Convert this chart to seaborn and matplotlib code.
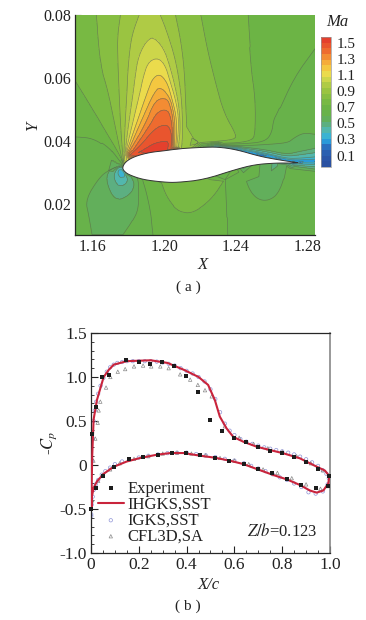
import numpy as np
import pandas as pd
import seaborn as sns
import matplotlib.pyplot as plt
import matplotlib.tri as mtri
from matplotlib.colors import LinearSegmentedColormap
from matplotlib.ticker import MultipleLocator

# ---- panel (a): Mach contours, (level, x list, y list) ----
lobe_080 = (0.80, [1.1621, 1.1646, 1.1685, 1.1724, 1.1763], [.08, .0635, .0561, .045, .0339])
lobe_080r = (0.80, [1.22, 1.2237, 1.2283, 1.233, 1.2405, 1.2386, 1.2293, 1.2162], [.08, .069, .0584, .0488, .0414, .0404, .0398, .0393])
lobe_087 = (0.87, [1.1769, 1.1755, 1.1747, 1.174, 1.174, 1.1756], [.0339, .045, .0561, .0673, .0736, .08])
lobe_087r = (0.87, [1.206, 1.2091, 1.211, 1.2117, 1.2125, 1.2184, 1.2195, 1.2143], [.08, .0715, .062, .0501, .0418, .0399, .0392, .0385])
lobe_094 = (0.94, [1.1772, 1.178, 1.1792, 1.1796, 1.1808, 1.1825, 1.186], [.0332, .045, .0561, .0619, .0695, .0746, .08])
lobe_094r = (0.94, [1.1976, 1.2013, 1.206, 1.2088, 1.2099, 1.2102, 1.2097], [.08, .0747, .0662, .0572, .0501, .0429, .0387])
lobe_101 = (1.01, [1.1775, 1.1799, 1.1828, 1.1836, 1.1853, 1.1892, 1.1937, 1.1995, 1.2028, 1.206, 1.2084, 1.2088, 1.2078],
            [.0339, .045, .0561, .06, .0663, .0711, .0731, .0694, .0641, .0572, .0501, .0429, .0381])
lobe_108 = (1.08, [1.1786, 1.182, 1.1867, 1.1881, 1.1909, 1.1963, 1.2004, 1.2032, 1.206, 1.2078, 1.2078, 1.2069],
            [.037, .045, .0561, .06, .065, .0664, .0641, .0588, .0535, .0482, .0429, .0381])
lobe_115 = (1.15, [1.1792, 1.1841, 1.1909, 1.1937, 1.1976, 1.2017, 1.2041, 1.2065, 1.2069, 1.2063],
            [.037, .045, .0561, .06, .0612, .0583, .0535, .0482, .0429, .0381])
lobe_122 = (1.22, [1.18, 1.1861, 1.1948, 1.1985, 1.2032, 1.205, 1.206, 1.2056],
            [.037, .045, .0561, .0569, .0535, .0493, .045, .0381])
lobe_129 = (1.29, [1.1808, 1.1892, 1.1948, 1.2015, 1.2036, 1.205, 1.205],
            [.037, .045, .053, .0536, .0503, .0461, .0381])
lobe_136 = (1.36, [1.1825, 1.192, 1.1959, 1.2015, 1.2037, 1.2045, 1.2043],
            [.037, .045, .0491, .0501, .0471, .0429, .0378])
lobe_143 = (1.43, [1.1808, 1.1869, 1.1948, 1.2015, 1.2037, 1.2041, 1.2036],
            [.0355, .0386, .044, .0453, .0429, .0403, .0374])
lobe_150 = (1.50, [1.1855, 1.1892, 1.1948, 1.2015, 1.2023, 1.2017],
            [.0362, .0374, .0393, .0399, .0392, .037])
# far field and wake lines
far_073 = (0.73, [1.15, 1.1603, 1.1677, 1.1733, 1.1765], [.0594, .0499, .0425, .0372, .0335])
far_073r = (0.73, [1.2461, 1.2479, 1.2507, 1.2506, 1.2488, 1.2422, 1.2329], [.08, .0637, .0531, .0418, .0402, .0394, .0392])
far_066 = (0.66, [1.15, 1.1603, 1.1696, 1.176], [.0416, .0412, .0377, .0328])
far_066r = (0.66, [1.2843, 1.2722, 1.2628, 1.2608, 1.2599, 1.2562, 1.2441, 1.232], [.07, .0605, .0488, .0466, .0424, .0397, .039, .0389])
line_a = (0.59, [1.1755, 1.1696, 1.164, 1.1556, 1.1575, 1.1593], [.0322, .0308, .0287, .0213, .016, .01])
line_c = (0.59, [1.1771, 1.1825, 1.1855, 1.1857, 1.1855, 1.1835], [.01, .0145, .018, .0235, .0275, .0292])
line_d = (0.66, [1.1938, 1.1925, 1.19, 1.188], [.01, .017, .0235, .0272])
line_e = (0.66, [1.2349, 1.2345, 1.2339], [.01, .0192, .0276])
bowl_1 = (0.73, [1.1985, 1.2013, 1.2069, 1.2134, 1.22, 1.2274, 1.233], [.0266, .0223, .0181, .017, .0186, .0223, .0271])
bowl_2 = (0.59, [1.2442, 1.247, 1.2517, 1.2573, 1.2628, 1.2666, 1.2684], [.0298, .0245, .0213, .0207, .0223, .0266, .0319])
loop_52 = (0.52, [1.1745, 1.1697, 1.1669, 1.1724, 1.1808, 1.1836, 1.1815], [.032, .0313, .0275, .0205, .0227, .0259, .0285])
loop_45 = (0.45, [1.1755, 1.1735, 1.1713, 1.1741, 1.178, 1.1797, 1.1785], [.0315, .0313, .0285, .0253, .0259, .0275, .029])
loop_38 = (0.38, [1.1752, 1.1735, 1.1758, 1.178, 1.1775, 1.1752], [.0313, .0297, .0278, .0285, .03, .0313])
wake_59 = (0.59, [1.2329, 1.2441, 1.2571, 1.2692, 1.272, 1.2776, 1.2843], [.0387, .0384, .0388, .0394, .0408, .0426, .0421])
wake_52 = (0.52, [1.2441, 1.2571, 1.2683, 1.2748, 1.2843], [.038, .0371, .0357, .0365, .0376])
wake_38 = (0.38, [1.2441, 1.2571, 1.2683, 1.2748, 1.285], [.0373, .036, .0344, .0344, .0349])
wake_24 = (0.24, [1.2441, 1.2571, 1.2683, 1.273, 1.2785, 1.285], [.0366, .0354, .0337, .0334, .0334, .0334])
wake_low_38 = (0.38, [1.2748, 1.285], [.0326, .0324])
wake_low_52 = (0.52, [1.273, 1.285], [.0318, .0309])
wake_low_59 = (0.59, [1.2691, 1.285], [.0312, .0302])
traces = [lobe_080, lobe_080r, lobe_087, lobe_087r, lobe_094, lobe_094r, lobe_101, lobe_108, lobe_115, lobe_122,
          lobe_129, lobe_136, lobe_143, lobe_150, far_073, far_073r, far_066, far_066r, line_a, line_c, line_d,
          line_e, bowl_1, bowl_2, loop_52, loop_45, loop_38, wake_59, wake_52, wake_38, wake_24, wake_low_38,
          wake_low_52, wake_low_59]

# single readings away from the traced lines
spot_x = [1.15, 1.15, 1.15, 1.15, 1.15, 1.156, 1.192, 1.2845, 1.265, 1.2845, 1.2845, 1.2845, 1.2845, 1.168, 1.187,
          1.215, 1.25, 1.255, 1.1757, 1.2765, 1.285, 1.2, 1.26]
spot_y = [.08, .07, .05, .03, .01, .08, .08, .08, .08, .05, .045, .03, .01, .015, .012,
          .01, .01, .025, .0297, .033, .033, .012, .012]
spot_ma = [.76, .755, .695, .63, .62, .765, .97, .70, .705, .63, .63, .63, .63, .55, .63,
           .70, .63, .56, .33, .18, .2, .70, .63]

# airfoil outline and the Mach number read along it
upper_x = [1.1765, 1.1775, 1.18, 1.1845, 1.192, 1.20, 1.205, 1.207, 1.21, 1.215, 1.222, 1.23, 1.24, 1.2535, 1.263, 1.272, 1.2755]
upper_y = [.0313, .0327, .034, .0352, .0363, .0368, .0372, .0373, .0375, .0377, .0379, .038, .0372, .035, .034, .0332, .033]
upper_ma = [.42, .85, 1.15, 1.45, 1.52, 1.53, 1.52, 1.4, .92, .88, .55, .3, .22, .22, .22, .2, .18]
lower_x = [1.272, 1.262, 1.2505, 1.2395, 1.222, 1.207, 1.20, 1.188, 1.18, 1.1775]
lower_y = [.0329, .0329, .0324, .0308, .0276, .0267, .0268, .0276, .0292, .0303]
lower_ma = [.3, .5, .62, .70, .76, .76, .74, .66, .55, .42]
ma_levels = [round(-0.04 + 0.07 * i, 2) for i in range(24)]
ma_ticks = [0.1, 0.3, 0.5, 0.7, 0.9, 1.1, 1.3, 1.5]
cmap_ma = [-.04, .1, .2, .3, .38, .45, .5, .55, .62, .7, .8, .9, 1.0, 1.1, 1.2, 1.3, 1.4, 1.57]
cmap_colors = ['#2a4f9f', '#2b58aa', '#2a70bf', '#2aa8e2', '#49bcc6', '#5bb294', '#5dae78', '#62af5c', '#68b24a',
               '#6cb444', '#7dbb42', '#98c341', '#b6ce46', '#e9e04e', '#f6c23e', '#f59a35', '#ee6b2f', '#e2362d']

# ---- panel (b): pressure curves ----
ihgks_x = [.002, .003, .005, .011, .025, .039, .053, .074, .095, .15, .25, .32, .39, .45, .49, .518, .539, .567,
           .595, .637, .693, .749, .805, .874, .93, .979, .997, .993, .972, .944, .916, .874, .819, .763, .693,
           .637, .581, .518, .456, .388, .332, .276, .206, .15, .095, .053, .025, .011, .004, .002]
ihgks_y = [-.5, -.2, .1, .52, .74, .87, 1.0, 1.08, 1.14, 1.18, 1.19, 1.16, 1.08, 1.0, .91, .74, .55, .417,
           .32, .265, .208, .17, .133, .076, 0, -.064, -.125, -.208, -.29, -.314, -.29, -.227, -.163, -.114, -.045,
           .011, .049, .083, .106, .136, .136, .117, .08, .04, -.02, -.1, -.186, -.26, -.356, -.5]
exp_x = [.004, .022, .047, .074, .148, .2, .248, .298, .349, .399, .449, .497, .547, .597, .647, .699, .749,
         .799, .849, .899, .948, .997, .99, .94, .88, .819, .759, .699, .639, .579, .519, .458, .399, .337,
         .279, .218, .158, .095, .05, .022, 0.0]
exp_y = [.35, .66, 1.0, 1.025, 1.19, 1.165, 1.145, 1.17, 1.125, 1.01, .83, .515, .386, .303, .258, .2, .163,
         .133, .087, .03, -.045, -.125, -.24, -.258, -.23, -.163, -.095, -.045, .008, .05, .083, .11, .136, .136,
         .117, .087, .065, -.02, -.13, -.26, -.5]
igks_x = [.001, .002, .004, .007, .011, .016, .022, .03, .04, .052, .066, .08, .095, .11, .13, .15, .175, .2, .225,
          .25, .275, .3, .325, .35, .375, .4, .425, .45, .475, .5, .52, .54, .56, .58, .6, .625, .65, .675, .7,
          .725, .75, .775, .8, .825, .85, .875, .9, .925, .95, .97, .985, .995, .99, .97, .94, .91, .88, .85, .82,
          .79, .76, .73, .7, .67, .64, .6, .56, .52, .48, .44, .4, .36, .32, .28, .24, .2, .16, .13, .1, .08, .06,
          .045, .03, .02, .012, .007, .003, .001]
igks_y = [-.58, -.3, .05, .3, .5, .62, .72, .81, .9, .99, 1.06, 1.11, 1.14, 1.16, 1.17, 1.18, 1.18, 1.18, 1.18,
          1.18, 1.175, 1.165, 1.15, 1.13, 1.1, 1.07, 1.04, 1.0, .95, .86, .75, .6, .47, .39, .34, .295, .265, .24,
          .22, .2, .185, .17, .155, .14, .12, .095, .065, .03, -.01, -.06, -.1, -.15, -.22, -.3, -.325, -.31, -.25,
          -.21, -.17, -.14, -.105, -.07, -.04, -.01, .02, .05, .07, .09, .11, .125, .14, .14, .135, .12, .105, .085,
          .06, .04, .01, -.03, -.07, -.11, -.17, -.22, -.28, -.36, -.45, -.56]
cfl_x = [.004, .01, .018, .028, .032, .039, .063, .081, .112, .143, .18, .218, .252, .29, .325, .373, .415, .447,
         .477, .505, .56, .62, .68, .74, .8, .86, .92, .97, .99, .96, .9, .84, .78, .72, .66, .6, .54, .48, .42,
         .36, .3, .24, .18, .12, .08, .05, .03, .015, .005]
cfl_y = [-.4, .05, .3, .48, .62, .72, .88, 1.0, 1.06, 1.09, 1.12, 1.13, 1.12, 1.12, 1.10, 1.03, .97, .91,
         .85, .78, .44, .31, .24, .19, .15, .1, .02, -.06, -.24, -.27, -.22, -.15, -.09, -.05, .01, .05, .08, .11, .13,
         .14, .13, .1, .07, .02, -.05, -.11, -.18, -.25, -.4]
x_ticks_b = [0, .2, .4, .6, .8, 1.0]
x_labels_b = ['0', '0.2', '0.4', '0.6', '0.8', '1.0']
y_ticks_b = [-1.0, -.5, 0, .5, 1.0, 1.5]
y_labels_b = ['-1.0', '-0.5', '0', '0.5', '1.0', '1.5']

sns.set_theme(style='ticks')
plt.rcParams['font.family'] = ['Liberation Serif', 'DejaVu Serif']
plt.rcParams['mathtext.fontset'] = 'stix'
plt.rcParams['axes.linewidth'] = 0.9

W, H = 366, 620
INK = '#222222'
fig = plt.figure(figsize=(W / 100, H / 100), dpi=100, facecolor='white')


def px_axes(left, top, right, bottom):
    return fig.add_axes([left / W, 1 - bottom / H, (right - left) / W, (bottom - top) / H])


def walk_trace(xs, ys, step=0.0012):
    # round the corners of a traced line, then put points along it for the triangulation
    pts = np.column_stack([xs, ys])
    for _ in range(2):
        if len(pts) > 2:
            q = 0.75 * pts[:-1] + 0.25 * pts[1:]
            r = 0.25 * pts[:-1] + 0.75 * pts[1:]
            mid = np.empty((2 * len(q), 2))
            mid[0::2], mid[1::2] = q, r
            pts = np.vstack([pts[0], mid, pts[-1]])
    seg = np.hypot(np.diff(pts[:, 0]), np.diff(pts[:, 1]) * 1.75)
    dist = np.r_[0, np.cumsum(seg)]
    s = np.linspace(0, dist[-1], max(2, int(dist[-1] / step) + 1))
    return np.interp(s, dist, pts[:, 0]), np.interp(s, dist, pts[:, 1])


stops = [(v - cmap_ma[0]) / (cmap_ma[-1] - cmap_ma[0]) for v in cmap_ma]
tecplot = LinearSegmentedColormap.from_list('tecplot', list(zip(stops, cmap_colors)))

# panel (a)
fx, fy, fz = list(spot_x) + upper_x + lower_x, list(spot_y) + upper_y + lower_y, list(spot_ma) + upper_ma + lower_ma
for level, xs, ys in traces:
    wx, wy = walk_trace(xs, ys)
    fx += list(wx)
    fy += list(wy)
    fz += [level] * len(wx)
pts = pd.DataFrame({'x': np.round(fx, 5), 'y': np.round(fy, 5), 'z': fz}).drop_duplicates(['x', 'y'])
# triangles are built in picture proportions, so they follow the thin bands
tri = mtri.Triangulation(pts.x * 1790, pts.y * 3143)
tri = mtri.Triangulation(pts.x, pts.y, tri.triangles)

ax = px_axes(75, 15, 315, 235)
draw_levels = [v - 0.001 for v in ma_levels]
cf = ax.tricontourf(tri, pts.z, levels=draw_levels, cmap=tecplot)
ax.tricontour(tri, pts.z, levels=draw_levels, colors='#566b55', linewidths=0.5, alpha=0.7)
# outline runs from the middle of the top surface, so the nose gets rounded as well
shape_x = upper_x[8:] + lower_x + upper_x[:9]
shape_y = upper_y[8:] + lower_y + upper_y[:9]
foil_x, foil_y = walk_trace(shape_x, shape_y, step=0.0004)
ax.fill(foil_x, foil_y, facecolor='white', edgecolor='#333333', linewidth=0.7, zorder=3)
ax.set_xlim(1.15, 1.2842)
ax.set_ylim(0.01, 0.08)
ax.set_xticks([1.16, 1.20, 1.24, 1.28])
ax.set_xticklabels(['1.16', '1.20', '1.24', '1.28'])
ax.set_yticks([.02, .04, .06, .08])
ax.set_yticklabels(['0.02', '0.04', '0.06', '0.08'])
ax.tick_params(direction='in', length=4, width=0.8, labelsize=11.5, pad=3, color=INK, labelcolor=INK)
ax.spines['top'].set_visible(False)
ax.spines['right'].set_visible(False)
ax.set_xlabel('')
ax.set_ylabel('')
fig.text(203 / W, 1 - 265 / H, 'X', style='italic', fontsize=12, ha='center', va='center', color=INK)
fig.text(33 / W, 1 - 126 / H, 'Y', style='italic', fontsize=12, ha='center', va='center', color=INK, rotation=90)

cax = px_axes(321, 37, 331, 167)
cb = fig.colorbar(cf, cax=cax, ticks=ma_ticks)
cb.ax.tick_params(length=0, labelsize=11, pad=4, labelcolor=INK)
cb.outline.set_edgecolor('#999999')
cb.outline.set_linewidth(0.5)
cb.ax.set_yticklabels([f'{t:.1f}' for t in ma_ticks])
fig.text(337 / W, 1 - 22 / H, 'Ma', style='italic', fontsize=12, ha='center', va='center', color=INK)
fig.text(188 / W, 1 - 287 / H, '( a )', fontsize=11, ha='center', va='center', color=INK)

# panel (b)
bx = px_axes(91, 333, 330, 553)
igks = pd.DataFrame({'x': igks_x, 'y': igks_y})
cfl = pd.DataFrame({'x': cfl_x, 'y': cfl_y})
ihgks = pd.DataFrame({'x': ihgks_x, 'y': ihgks_y})
expt = pd.DataFrame({'x': exp_x, 'y': exp_y})
sns.lineplot(data=ihgks, x='x', y='y', sort=False, estimator=None, color='#c9243c', lw=1.5,
             ax=bx, label='IHGKS,SST', zorder=3)
sns.scatterplot(data=igks, x='x', y='y', ax=bx, marker='o', s=6, facecolor='none', edgecolor='#8f94d6',
                linewidth=0.5, label='IGKS,SST', zorder=2)
sns.scatterplot(data=cfl, x='x', y='y', ax=bx, marker='^', s=6, facecolor='none', edgecolor='#8a8a8a',
                linewidth=0.5, label='CFL3D,SA', zorder=2)
sns.scatterplot(data=expt, x='x', y='y', ax=bx, marker='s', s=9, color='#1c1c1c', linewidth=0,
                label='Experiment', zorder=4, clip_on=False)
bx.set_xlim(0, 1)
bx.set_ylim(-1, 1.5)
bx.set_xticks(x_ticks_b)
bx.set_xticklabels(x_labels_b)
bx.set_yticks(y_ticks_b)
bx.set_yticklabels(y_labels_b)
bx.xaxis.set_minor_locator(MultipleLocator(.05))
bx.yaxis.set_minor_locator(MultipleLocator(.1))
bx.tick_params(which='major', direction='in', length=5, width=0.8, labelsize=12.5, pad=3, color=INK, labelcolor=INK)
bx.tick_params(which='minor', direction='in', length=2.5, width=0.6, color=INK)
bx.spines['right'].set_color('#888888')
bx.spines['right'].set_linewidth(1.2)
bx.set_xlabel('')
bx.set_ylabel('-$C_p$', fontsize=12, labelpad=0, color=INK)
fig.text(209 / W, 1 - 585 / H, 'X/c', style='italic', fontsize=12, ha='center', va='center', color=INK)
bx.text(0.653, 0.075, '$Z/b$=0.123', transform=bx.transAxes, fontsize=12, color=INK)
handles, labels = bx.get_legend_handles_labels()
order = [labels.index(n) for n in ['Experiment', 'IHGKS,SST', 'IGKS,SST', 'CFL3D,SA']]
bx.legend([handles[i] for i in order], [labels[i] for i in order], frameon=False, loc='lower left',
          bbox_to_anchor=(-0.02, -0.015), fontsize=12, labelspacing=0.0, handlelength=1.55, handletextpad=0.2,
          borderpad=0.2, labelcolor=INK)
fig.text(188 / W, 1 - 606 / H, '( b )', fontsize=11, ha='center', va='center', color=INK)

fig.savefig('out.png', dpi=100, facecolor='white')
